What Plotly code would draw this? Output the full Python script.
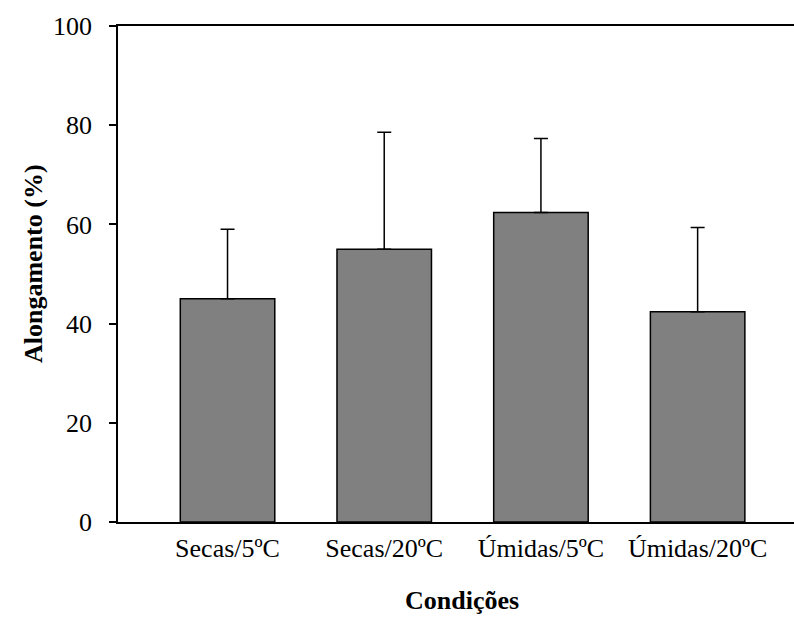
import plotly.graph_objects as go

categories = ["Secas/5ºC", "Secas/20ºC", "Úmidas/5ºC", "Úmidas/20ºC"]
values = [45.0, 55.0, 62.4, 42.4]
errors = [14.0, 23.6, 14.9, 17.0]
y_ticks = [0, 20, 40, 60, 80, 100]

FONT = "Liberation Serif, Times New Roman, serif"
W, H = 794, 617
L, R, T, B = 118, 0, 26, 95

fig = go.Figure()
fig.add_trace(go.Bar(
    x=list(range(len(categories))),
    y=values,
    width=0.603,
    marker=dict(color="#808080", line=dict(color="black", width=1.5)),
    error_y=dict(type="data", array=errors, symmetric=False, arrayminus=[0]*len(errors),
                 color="black", thickness=1.5, width=7),
))

fig.update_layout(
    width=W, height=H,
    margin=dict(l=L, r=R, t=T, b=B),
    plot_bgcolor="white", paper_bgcolor="white",
    showlegend=False,
    font=dict(family=FONT, size=26, color="black"),
    xaxis=dict(
        range=[-0.699, 3.615],
        tickmode="array", tickvals=list(range(len(categories))), ticktext=categories,
        showline=True, linecolor="black", linewidth=1.5, mirror=True,
        ticks="", showgrid=False, zeroline=False,
        tickfont=dict(family=FONT, size=26),
        ticklabelstandoff=2,
    ),
    yaxis=dict(
        range=[0, 100],
        tickmode="array", tickvals=y_ticks,
        showline=True, linecolor="black", linewidth=1.5, mirror=False,
        ticks="outside", ticklen=7, tickwidth=1.5, tickcolor="black",
        showgrid=False, zeroline=False,
        tickfont=dict(family=FONT, size=26),
        ticklabelstandoff=12,
    ),
    annotations=[
        dict(text="<b>Condições</b>", xref="paper", yref="paper",
             x=(462 - L) / (W - L - R), y=(H - B - 600) / (H - T - B),
             xanchor="center", yanchor="middle", showarrow=False,
             font=dict(family=FONT, size=26)),
        dict(text="<b>Alongamento (%)</b>", xref="paper", yref="paper",
             x=(33 - L) / (W - L - R), y=(H - B - 264) / (H - T - B),
             xanchor="center", yanchor="middle", textangle=-90, showarrow=False,
             font=dict(family=FONT, size=26)),
    ],
)

fig.write_html(
    "out.html",
    config={"displayModeBar": False},
    post_script="document.body.style.margin='0';document.body.style.overflow='hidden';",
)
